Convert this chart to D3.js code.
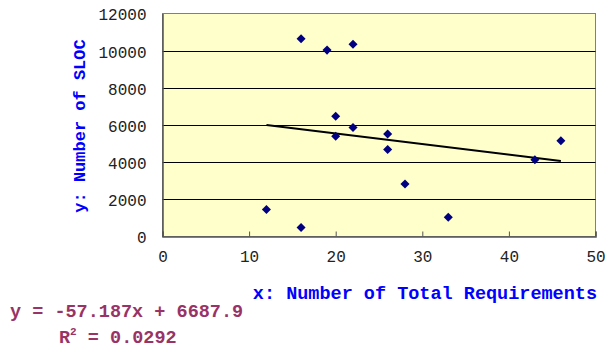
<!DOCTYPE html>
<html>
<head>
<meta charset="utf-8">
<script src="https://cdn.jsdelivr.net/npm/d3@7"></script>
<style>
html,body{margin:0;padding:0;background:#fff;}
svg{display:block;}
</style>
</head>
<body>
<svg id="chart" width="606" height="349"></svg>
<script>
// Data
const reqs = [16, 19, 22, 20, 22, 20, 26, 26, 12, 16, 28, 33, 43, 46];
const sloc = [10640, 10030, 10350, 6470, 5870, 5400, 5520, 4680, 1450, 480, 2830, 1040, 4130, 5150];
const xTicks = [0, 10, 20, 30, 40, 50];
const yTicks = [0, 2000, 4000, 6000, 8000, 10000, 12000];
const trendSlope = -57.187;
const trendIntercept = 6687.9;
const equationText = "y = -57.187x + 6687.9";
const r2Value = "0.0292";
const xTitle = "x: Number of Total Requirements";
const yTitle = "y: Number of SLOC";

const svg = d3.select("#chart");
const L = 162.5, R = 595.5, T = 13.5, B = 236.5;

const x = d3.scaleLinear().domain([0, 50]).range([L, R]);
const y = d3.scaleLinear().domain([0, 12000]).range([B, T]);

// plot area
svg.append("rect").attr("x", L).attr("y", T).attr("width", R - L).attr("height", B - T)
  .attr("fill", "#FFFFCC").attr("stroke", "#808080").attr("stroke-width", 1);

// gridlines
svg.append("g").selectAll("line").data(yTicks.filter(d => d > 0 && d < 12000)).join("line")
  .attr("x1", L).attr("x2", R)
  .attr("y1", d => Math.round(y(d)) + 0.5).attr("y2", d => Math.round(y(d)) + 0.5)
  .attr("stroke", "#000").attr("stroke-width", 1);

// y axis
const yAxis = d3.axisLeft(y).tickValues(yTicks).tickSize(0).tickPadding(16).tickFormat(d3.format("d"));
const gy = svg.append("g").attr("transform", `translate(${L},0)`).call(yAxis);
gy.select(".domain").attr("stroke", "#555").attr("stroke-width", 1.5);
gy.selectAll("text").attr("font-family", "Liberation Mono").attr("font-size", 16)
  .attr("fill", "#222").attr("dy", "0.4em");

// x axis
const xAxis = d3.axisBottom(x).tickValues(xTicks).tickSize(-5).tickPadding(20).tickFormat(d3.format("d"));
const gx = svg.append("g").attr("transform", `translate(0,${B})`).call(xAxis);
gx.select(".domain").attr("stroke", "#555").attr("stroke-width", 1.5);
gx.selectAll(".tick line").attr("stroke", "#555");
gx.selectAll("text").attr("font-family", "Liberation Mono").attr("font-size", 16)
  .attr("fill", "#222").attr("dy", "0.35em");

// trendline
const xMin = d3.min(reqs), xMax = d3.max(reqs);
svg.append("line")
  .attr("x1", x(xMin)).attr("y1", y(trendSlope * xMin + trendIntercept))
  .attr("x2", x(xMax)).attr("y2", y(trendSlope * xMax + trendIntercept))
  .attr("stroke", "#000").attr("stroke-width", 2);

// points
const diamond = d3.symbol().type(d3.symbolDiamond2).size(52);
svg.append("g").selectAll("path").data(reqs.map((d, i) => [d, sloc[i]])).join("path")
  .attr("d", diamond)
  .attr("transform", d => `translate(${x(d[0])},${y(d[1])})`)
  .attr("fill", "#000080");

// axis titles
svg.append("text").attr("x", 597).attr("y", 298.5).attr("text-anchor", "end")
  .attr("font-family", "Liberation Mono").attr("font-weight", "bold").attr("font-size", 18.5)
  .attr("fill", "#0000FF").text(xTitle);

svg.append("text").attr("transform", "translate(85,126) rotate(-90)").attr("text-anchor", "middle")
  .attr("font-family", "Liberation Mono").attr("font-weight", "bold").attr("font-size", 17)
  .attr("fill", "#0000FF").text(yTitle);

// equation
svg.append("text").attr("x", 10).attr("y", 317)
  .attr("font-family", "Liberation Mono").attr("font-weight", "bold").attr("font-size", 18.5)
  .attr("fill", "#993366").text(equationText);

const r2 = svg.append("text").attr("x", 59).attr("y", 343)
  .attr("font-family", "Liberation Mono").attr("font-weight", "bold").attr("font-size", 18.5)
  .attr("fill", "#993366");
r2.append("tspan").text("R");
r2.append("tspan").attr("font-size", 11).attr("dy", -8).text("2");
r2.append("tspan").attr("dy", 8).text(" = " + r2Value);
</script>
</body>
</html>
